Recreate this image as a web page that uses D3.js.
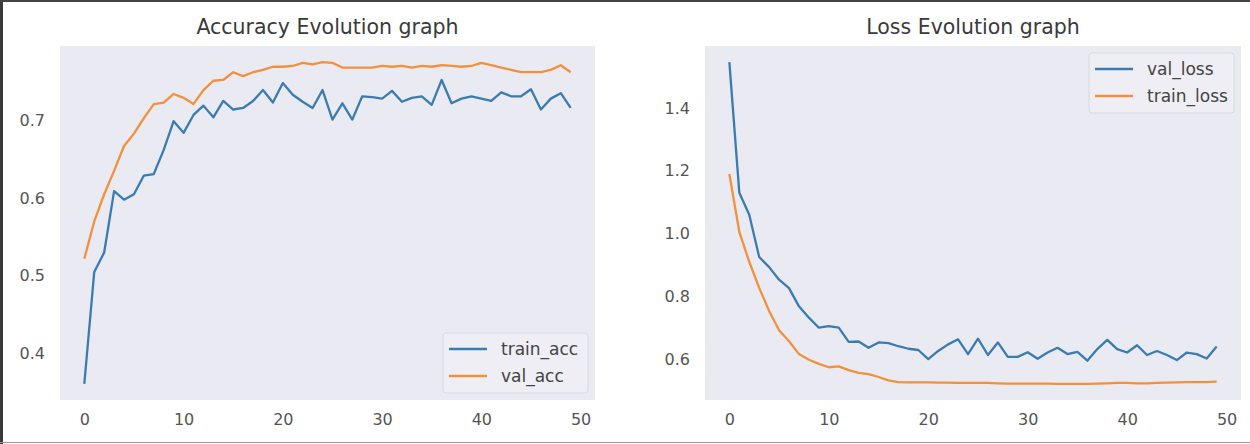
<!DOCTYPE html>
<html>
<head>
<meta charset="utf-8">
<script src="https://cdn.jsdelivr.net/npm/d3@7"></script>
<style>
  body { margin: 0; background: #fff; }
  svg text { font-family: 'DejaVu Sans', sans-serif; }
</style>
</head>
<body>
<div id="root"></div>
<script>
// values, one per epoch
const trainAcc = [0.361, 0.505, 0.530, 0.609, 0.598, 0.605, 0.629, 0.631, 0.662, 0.699,
  0.684, 0.707, 0.719, 0.704, 0.725, 0.714, 0.716, 0.725, 0.739, 0.723,
  0.748, 0.733, 0.724, 0.716, 0.739, 0.701, 0.722, 0.701, 0.731, 0.730,
  0.728, 0.738, 0.724, 0.729, 0.731, 0.720, 0.752, 0.722, 0.728, 0.731,
  0.728, 0.725, 0.736, 0.731, 0.731, 0.740, 0.714, 0.728, 0.735, 0.716];
const valAcc = [0.522, 0.570, 0.605, 0.635, 0.667, 0.683, 0.703, 0.721, 0.723, 0.734,
  0.729, 0.721, 0.739, 0.751, 0.752, 0.762, 0.757, 0.762, 0.765, 0.769,
  0.769, 0.770, 0.774, 0.772, 0.775, 0.774, 0.768, 0.768, 0.768, 0.768,
  0.770, 0.769, 0.770, 0.768, 0.770, 0.769, 0.771, 0.770, 0.769, 0.770,
  0.774, 0.771, 0.768, 0.765, 0.762, 0.762, 0.762, 0.765, 0.771, 0.762];
const valLoss = [1.546, 1.130, 1.060, 0.925, 0.893, 0.853, 0.826, 0.768, 0.732, 0.700,
  0.705, 0.700, 0.655, 0.656, 0.636, 0.653, 0.651, 0.641, 0.633, 0.629,
  0.600, 0.626, 0.647, 0.663, 0.616, 0.665, 0.613, 0.653, 0.607, 0.607,
  0.622, 0.601, 0.621, 0.636, 0.616, 0.623, 0.595, 0.632, 0.661, 0.632,
  0.621, 0.644, 0.613, 0.626, 0.613, 0.597, 0.621, 0.616, 0.602, 0.640];
const trainLoss = [1.190, 1.005, 0.910, 0.827, 0.753, 0.692, 0.657, 0.616, 0.598, 0.585,
  0.574, 0.577, 0.565, 0.556, 0.552, 0.543, 0.532, 0.527, 0.526, 0.526,
  0.526, 0.525, 0.525, 0.524, 0.524, 0.524, 0.524, 0.523, 0.522, 0.522,
  0.522, 0.522, 0.522, 0.521, 0.521, 0.521, 0.521, 0.522, 0.523, 0.524,
  0.524, 0.523, 0.523, 0.524, 0.525, 0.526, 0.527, 0.527, 0.527, 0.528];

const xTicks = [0, 10, 20, 30, 40, 50];
const accTicks = [0.4, 0.5, 0.6, 0.7];
const lossTicks = [0.6, 0.8, 1.0, 1.2, 1.4];

const BLUE = '#3a7cb2';
const ORANGE = '#f3903c';

const panels = [
  {
    title: 'Accuracy Evolution graph',
    left: 60, right: 595,
    ticks: accTicks,
    legend: 'lower right',
    series: [
      { name: 'train_acc', values: trainAcc, color: BLUE },
      { name: 'val_acc', values: valAcc, color: ORANGE },
    ],
  },
  {
    title: 'Loss Evolution graph',
    left: 705, right: 1241,
    ticks: lossTicks,
    legend: 'upper right',
    series: [
      { name: 'val_loss', values: valLoss, color: BLUE },
      { name: 'train_loss', values: trainLoss, color: ORANGE },
    ],
  },
];

const chart = { width: 1250, height: 444, top: 46, bottom: 400 };

const svg = d3
  .select('#root')
  .append('svg')
  .attr('width', chart.width)
  .attr('height', chart.height);

svg.append('rect').attr('width', chart.width).attr('height', chart.height).attr('fill', '#fff');

// matplotlib style 5% margins around the data
function padded(ext) {
  const m = (ext[1] - ext[0]) * 0.05;
  return [ext[0] - m, ext[1] + m];
}

panels.forEach(p => {
  const n = p.series[0].values.length;
  const x = d3
    .scaleLinear()
    .domain(padded([0, n - 1]))
    .range([p.left, p.right]);
  const y = d3
    .scaleLinear()
    .domain(padded(d3.extent(p.series.flatMap(s => s.values))))
    .range([chart.bottom, chart.top]);

  const g = svg.append('g');

  g.append('rect')
    .attr('x', p.left)
    .attr('y', chart.top)
    .attr('width', p.right - p.left)
    .attr('height', chart.bottom - chart.top)
    .attr('fill', '#eaeaf2');

  g.append('text')
    .attr('x', (p.left + p.right) / 2)
    .attr('y', 34)
    .attr('text-anchor', 'middle')
    .attr('font-size', '20.5px')
    .attr('fill', '#3a3a3a')
    .text(p.title);

  const xAxis = g
    .append('g')
    .attr('transform', `translate(0,${chart.bottom})`)
    .call(d3.axisBottom(x).tickValues(xTicks).tickSize(0).tickPadding(14));
  const yAxis = g
    .append('g')
    .attr('transform', `translate(${p.left},0)`)
    .call(d3.axisLeft(y).tickValues(p.ticks).tickFormat(d3.format('.1f')).tickSize(0).tickPadding(15));
  [xAxis, yAxis].forEach(a => {
    a.select('.domain').remove();
    a.selectAll('text').attr('font-size', '16px').attr('fill', '#555').attr('font-family', 'DejaVu Sans');
  });

  const line = d3
    .line()
    .x((d, i) => x(i))
    .y(d => y(d));

  p.series.forEach(s => {
    g.append('path')
      .attr('d', line(s.values))
      .attr('fill', 'none')
      .attr('stroke', s.color)
      .attr('stroke-width', 2.3)
      .attr('stroke-linejoin', 'round');
  });

  // legend
  const lw = 145, lh = 60;
  const lx = p.right - 7 - lw;
  const ly = p.legend === 'lower right' ? chart.bottom - 7 - lh : chart.top + 7;
  const leg = g.append('g').attr('transform', `translate(${lx},${ly})`);
  leg.append('rect')
    .attr('width', lw)
    .attr('height', lh)
    .attr('rx', 3)
    .attr('fill', '#eeeef4')
    .attr('stroke', '#d8d8e0');
  p.series.forEach((s, i) => {
    const cy = 16 + i * 27;
    leg.append('line')
      .attr('x1', 6).attr('x2', 44)
      .attr('y1', cy).attr('y2', cy)
      .attr('stroke', s.color)
      .attr('stroke-width', 2.3);
    leg.append('text')
      .attr('x', 58)
      .attr('y', cy)
      .attr('dy', '0.35em')
      .attr('font-size', '17px')
      .attr('fill', '#444')
      .text(s.name);
  });
});

// frame around the screenshot
svg.append('line').attr('x1', 1.5).attr('x2', 1.5).attr('y1', 0).attr('y2', chart.height).attr('stroke', '#3a3a3a').attr('stroke-width', 3);
svg.append('line').attr('x1', 0).attr('x2', chart.width).attr('y1', 1).attr('y2', 1).attr('stroke', '#444').attr('stroke-width', 2);
svg.append('line').attr('x1', 0).attr('x2', chart.width).attr('y1', 442.5).attr('y2', 442.5).attr('stroke', '#999').attr('stroke-width', 1);
</script>
</body>
</html>
